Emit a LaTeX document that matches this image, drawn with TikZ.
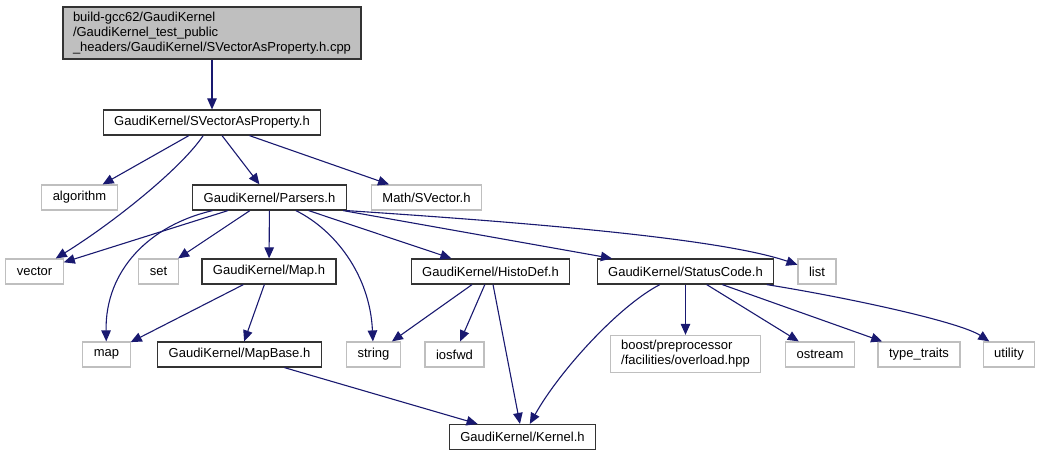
\documentclass[tikz,border=0pt]{standalone}
\usepackage{fontspec}
\setmainfont{Liberation Sans}
\usetikzlibrary{shapes,arrows.meta}

\definecolor{edgeblue}{HTML}{191970}
\definecolor{boxgray}{HTML}{BFBFBF}

\begin{document}
\begin{tikzpicture}
  [x=1pt,y=-1pt,every node/.style={font=\fontsize{13}{15}\selectfont,inner xsep=11pt,inner ysep=5pt,minimum height=25pt,line width=1.2pt},
   hdr/.style={draw=black!80,fill=white},
   sys/.style={draw=boxgray,fill=white},
   dep/.style={draw=edgeblue,line width=1.1pt,-{Triangle[length=11pt,width=9.5pt]}}]

  \useasboundingbox (0,0) rectangle (1045,456);

  \node[hdr,fill=boxgray,align=left,inner xsep=10pt] (top) at (212,33)
    {build-gcc62/GaudiKernel\\/GaudiKernel\_test\_public\\\_headers/GaudiKernel/SVectorAsProperty.h.cpp};
  \node[hdr] (svap)       at (212,122.5)  {GaudiKernel/SVectorAsProperty.h};
  \node[sys] (algorithm)  at (79.5,197.5) {algorithm};
  \node[hdr] (parsers)    at (269.5,197.5){GaudiKernel/Parsers.h};
  \node[sys] (msvector)   at (426.5,197.5){Math/SVector.h};
  \node[sys] (vector)     at (34.5,271.5) {vector};
  \node[sys] (set)        at (158.5,271.5){set};
  \node[hdr] (maph)       at (269,271.5)  {GaudiKernel/Map.h};
  \node[hdr] (histodef)   at (490.5,271.5){GaudiKernel/HistoDef.h};
  \node[hdr] (statuscode) at (685.5,271.5){GaudiKernel/StatusCode.h};
  \node[sys] (list)       at (817,271.5)  {list};
  \node[sys] (map)        at (106.5,354.5){map};
  \node[hdr] (mapbase)    at (239.5,354.5){GaudiKernel/MapBase.h};
  \node[sys] (string)     at (373.5,354.5){string};
  \node[sys] (iosfwd)     at (454.5,354.5){iosfwd};
  \node[sys,align=left]   (boost) at (685.5,354) {boost/preprocessor\\/facilities/overload.hpp};
  \node[sys] (ostream)    at (820,354.5)  {ostream};
  \node[sys] (typetraits) at (919,354.5)  {type\_traits};
  \node[sys] (utility)    at (1009,354.5) {utility};
  \node[hdr] (kernel)     at (522.5,437)  {GaudiKernel/Kernel.h};

  \foreach \from/\to in {top/svap,svap/algorithm,svap/parsers,svap/msvector,
      parsers/vector,parsers/set,parsers/maph,parsers/histodef,parsers/statuscode,
      maph/map,maph/mapbase,mapbase/kernel,histodef/string,histodef/iosfwd,histodef/kernel,
      statuscode/boost,statuscode/ostream,statuscode/typetraits}
    \draw[dep] (\from) -- (\to);

  % bent edges
  \draw[dep] (svap) .. controls (180,170) and (110,225) .. (vector);
  \draw[dep] (parsers) .. controls (150,225) and (105,270) .. (map);
  \draw[dep] (parsers) .. controls (335,230) and (370,275) .. (string);
  \draw[dep] (parsers.south east) .. controls (520,222) and (720,238) .. (list);
  \draw[dep] (statuscode) .. controls (620,305) and (560,370) .. (kernel);
  \draw[dep] (statuscode) .. controls (850,298) and (960,322) .. (utility);

\end{tikzpicture}
\end{document}
